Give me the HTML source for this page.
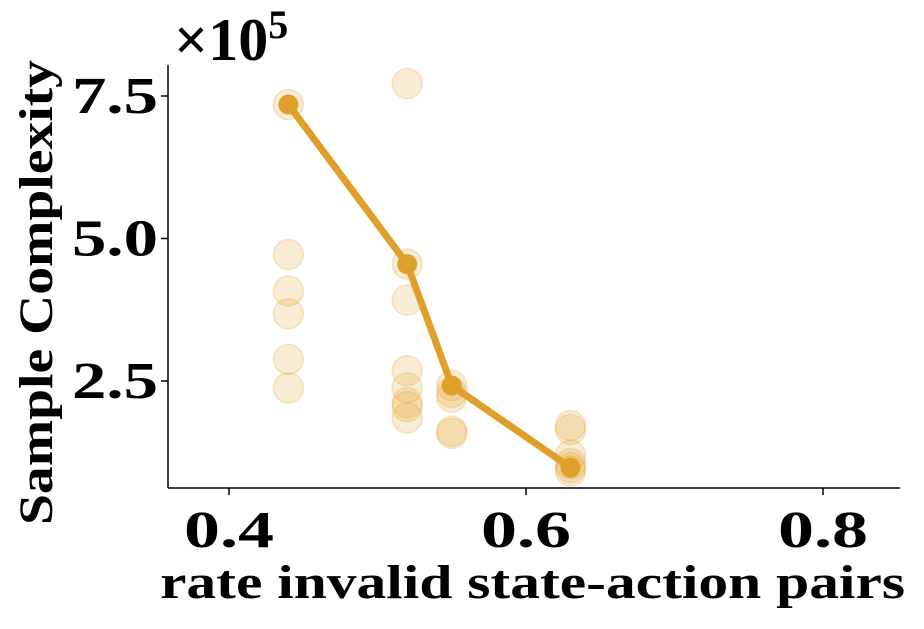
<!DOCTYPE html>
<html><head><meta charset="utf-8"><style>
body{margin:0;background:#fff;}
svg text{font-family:"Liberation Serif","DejaVu Serif",serif;font-weight:bold;fill:#000;}
</style></head><body>
<svg id="chart" width="924" height="624" xmlns="http://www.w3.org/2000/svg">
<g id="scatter"></g>
<g id="line"></g>
<g id="axes"></g>
</svg>
<script>
const scatterX = [0.44,0.44,0.44,0.44,0.44,0.44, 0.52,0.52,0.52,0.52,0.52,0.52,0.52,0.52, 0.55,0.55,0.55,0.55,0.55, 0.63,0.63,0.63,0.63,0.63,0.63];
const scatterY = [7.35,4.72,4.08,3.68,2.88,2.38, 7.72,4.55,3.92,2.68,2.38,2.12,2.05,1.85, 2.42,2.3,2.22,1.62,1.58, 1.72,1.65,1.2,1.05,0.98,0.92];
const meanX = [0.44,0.52,0.55,0.63];
const meanY = [7.35,4.55,2.42,0.98];
const xTicks = [0.4,0.6,0.8];
const xTickLabels = ["0.4","0.6","0.8"];
const yTicks = [2.5,5.0,7.5];
const yTickLabels = ["2.5","5.0","7.5"];

const NS="http://www.w3.org/2000/svg";
const xs=v=>229+(v-0.4)*1485;
const ys=v=>381-(v-2.5)*57;
function mk(tag,attrs,parent){const e=document.createElementNS(NS,tag);for(const k in attrs)e.setAttribute(k,attrs[k]);parent.appendChild(e);return e;}
const sc=document.getElementById('scatter');
scatterX.forEach((x,i)=>{
  const c=mk('circle',{cx:xs(x),cy:ys(scatterY[i]),r:15,fill:'#e09f2a','fill-opacity':0.2,stroke:'#e09f2a','stroke-opacity':0.25,'stroke-width':1.5},sc);
  
  
});
const ln=document.getElementById('line');
const p=mk('polyline',{points:meanX.map((x,i)=>xs(x)+','+ys(meanY[i])).join(' '),fill:'none',stroke:'#e09f2a','stroke-width':7,'stroke-linejoin':'round'},ln);


meanX.forEach((x,i)=>{
  const c=mk('circle',{cx:xs(x),cy:ys(meanY[i]),r:10,fill:'#e09f2a'},ln);
  
  
});
const ax=document.getElementById('axes');
const sl=mk('line',{x1:168,y1:65,x2:168,y2:488,stroke:'#000','stroke-width':1.5},ax);


const sb=mk('line',{x1:168,y1:488,x2:900,y2:488,stroke:'#000','stroke-width':1.5},ax);


xTicks.forEach((v,i)=>{
  mk('line',{x1:xs(v),y1:488,x2:xs(v),y2:495,stroke:'#000','stroke-width':1.5},ax);
  const t=mk('text',{x:xs(v),y:547,'text-anchor':'middle','font-size':52,textLength:90,lengthAdjust:'spacingAndGlyphs'},ax);
  t.textContent=xTickLabels[i];
  
  
});
yTicks.forEach((v,i)=>{
  mk('line',{x1:161,y1:ys(v),x2:168,y2:ys(v),stroke:'#000','stroke-width':1.5},ax);
  const t=mk('text',{x:158,y:ys(v)+17,'text-anchor':'end','font-size':52,textLength:86,lengthAdjust:'spacingAndGlyphs'},ax);
  t.textContent=yTickLabels[i];
  
  
});
const xt=mk('text',{x:160,y:598,'font-size':48,textLength:745,lengthAdjust:'spacingAndGlyphs'},ax);
xt.textContent='rate invalid state-action pairs';


const yt=mk('text',{x:0,y:0,'font-size':48,textLength:465,lengthAdjust:'spacingAndGlyphs',transform:'translate(52,525) rotate(-90)'},ax);
yt.textContent='Sample Complexity';


const off=mk('text',{x:174,y:60,'font-size':60,'font-weight':'normal'},ax);
off.innerHTML='×10<tspan dy="-22" font-size="40">5</tspan>';


</script>
</body></html>
